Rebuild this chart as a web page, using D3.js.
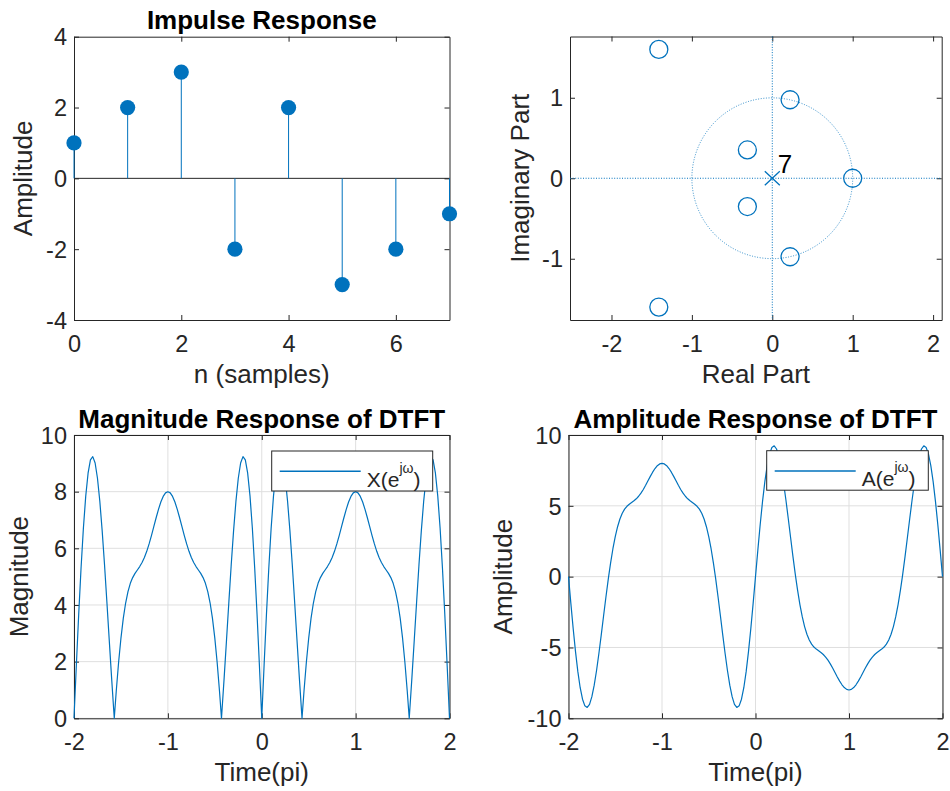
<!DOCTYPE html>
<html>
<head>
<meta charset="utf-8">
<script src="https://cdn.jsdelivr.net/npm/d3@7"></script>
<style>
  body { margin: 0; background: #fff; }
  svg { display: block; font-family: "Liberation Sans", Arial, Helvetica, sans-serif; }
</style>
</head>
<body>
<div id="chart"></div>
<script>
// --- impulse response h[n]
const samples = [0, 1, 2, 3, 4, 5, 6, 7];
const impulse = [1, 2, 3, -2, 2, -3, -2, -1];

// --- zeros and poles of H(z)
const zeroRe = [1, 0.2211, 0.2211, -0.3098, -0.3098, -1.4114, -1.4114];
const zeroIm = [0, 0.9753, -0.9753, 0.3514, -0.3514, 1.6005, -1.6005];
const poleRe = [0];
const poleIm = [0];
const poleOrder = [7];

// --- frequency axis (units of pi) and responses
const freqPi = [
  -2, -1.975, -1.95, -1.925, -1.9, -1.875, -1.85, -1.825, -1.8, -1.775, -1.75, -1.725, -1.7, -1.675, -1.65, -1.625, -1.6, -1.575, -1.571, -1.55, -1.525,
  -1.5, -1.475, -1.45, -1.425, -1.4, -1.375, -1.35, -1.325, -1.3, -1.275, -1.25, -1.225, -1.2, -1.175, -1.15, -1.125, -1.1, -1.075, -1.05, -1.025, -1,
  -0.975, -0.95, -0.925, -0.9, -0.875, -0.85, -0.825, -0.8, -0.775, -0.75, -0.725, -0.7, -0.675, -0.65, -0.625, -0.6, -0.575, -0.55, -0.525, -0.5,
  -0.475, -0.45, -0.429, -0.425, -0.4, -0.375, -0.35, -0.325, -0.3, -0.275, -0.25, -0.225, -0.2, -0.175, -0.15, -0.125, -0.1, -0.075, -0.05, -0.025, 0,
  0.025, 0.05, 0.075, 0.1, 0.125, 0.15, 0.175, 0.2, 0.225, 0.25, 0.275, 0.3, 0.325, 0.35, 0.375, 0.4, 0.425, 0.429, 0.45, 0.475, 0.5,
  0.525, 0.55, 0.575, 0.6, 0.625, 0.65, 0.675, 0.7, 0.725, 0.75, 0.775, 0.8, 0.825, 0.85, 0.875, 0.9, 0.925, 0.95, 0.975, 1,
  1.025, 1.05, 1.075, 1.1, 1.125, 1.15, 1.175, 1.2, 1.225, 1.25, 1.275, 1.3, 1.325, 1.35, 1.375, 1.4, 1.425, 1.45, 1.475, 1.5,
  1.525, 1.55, 1.571, 1.575, 1.6, 1.625, 1.65, 1.675, 1.7, 1.725, 1.75, 1.775, 1.8, 1.825, 1.85, 1.875, 1.9, 1.925, 1.95, 1.975, 2
];
const amplitude = [
  0, -1.871, -3.663, -5.297, -6.709, -7.841, -8.652, -9.120, -9.236, -9.012, -8.473, -7.661, -6.626, -5.426, -4.123, -2.780, -1.453, -0.194, 0, 0.957, 1.971,
  2.828, 3.526, 4.069, 4.474, 4.764, 4.967, 5.115, 5.235, 5.356, 5.497, 5.675, 5.894, 6.155, 6.450, 6.764, 7.080, 7.376, 7.633, 7.832, 7.957, 8,
  7.957, 7.832, 7.633, 7.376, 7.080, 6.764, 6.450, 6.155, 5.894, 5.675, 5.497, 5.356, 5.235, 5.115, 4.967, 4.764, 4.474, 4.069, 3.526, 2.828,
  1.971, 0.957, 0, -0.194, -1.453, -2.780, -4.123, -5.426, -6.626, -7.661, -8.473, -9.012, -9.236, -9.120, -8.652, -7.841, -6.709, -5.297, -3.663, -1.871, 0,
  1.871, 3.663, 5.297, 6.709, 7.841, 8.652, 9.120, 9.236, 9.012, 8.473, 7.661, 6.626, 5.426, 4.123, 2.780, 1.453, 0.194, 0, -0.957, -1.971, -2.828,
  -3.526, -4.069, -4.474, -4.764, -4.967, -5.115, -5.235, -5.356, -5.497, -5.675, -5.894, -6.155, -6.450, -6.764, -7.080, -7.376, -7.633, -7.832, -7.957, -8,
  -7.957, -7.832, -7.633, -7.376, -7.080, -6.764, -6.450, -6.155, -5.894, -5.675, -5.497, -5.356, -5.235, -5.115, -4.967, -4.764, -4.474, -4.069, -3.526, -2.828,
  -1.971, -0.957, 0, 0.194, 1.453, 2.780, 4.123, 5.426, 6.626, 7.661, 8.473, 9.012, 9.236, 9.120, 8.652, 7.841, 6.709, 5.297, 3.663, 1.871, 0
];
const magnitude = [
  0, 1.871, 3.663, 5.297, 6.709, 7.841, 8.652, 9.120, 9.236, 9.012, 8.473, 7.661, 6.626, 5.426, 4.123, 2.780, 1.453, 0.194, 0, 0.957, 1.971,
  2.828, 3.526, 4.069, 4.474, 4.764, 4.967, 5.115, 5.235, 5.356, 5.497, 5.675, 5.894, 6.155, 6.450, 6.764, 7.080, 7.376, 7.633, 7.832, 7.957, 8,
  7.957, 7.832, 7.633, 7.376, 7.080, 6.764, 6.450, 6.155, 5.894, 5.675, 5.497, 5.356, 5.235, 5.115, 4.967, 4.764, 4.474, 4.069, 3.526, 2.828,
  1.971, 0.957, 0, 0.194, 1.453, 2.780, 4.123, 5.426, 6.626, 7.661, 8.473, 9.012, 9.236, 9.120, 8.652, 7.841, 6.709, 5.297, 3.663, 1.871, 0,
  1.871, 3.663, 5.297, 6.709, 7.841, 8.652, 9.120, 9.236, 9.012, 8.473, 7.661, 6.626, 5.426, 4.123, 2.780, 1.453, 0.194, 0, 0.957, 1.971, 2.828,
  3.526, 4.069, 4.474, 4.764, 4.967, 5.115, 5.235, 5.356, 5.497, 5.675, 5.894, 6.155, 6.450, 6.764, 7.080, 7.376, 7.633, 7.832, 7.957, 8,
  7.957, 7.832, 7.633, 7.376, 7.080, 6.764, 6.450, 6.155, 5.894, 5.675, 5.497, 5.356, 5.235, 5.115, 4.967, 4.764, 4.474, 4.069, 3.526, 2.828,
  1.971, 0.957, 0, 0.194, 1.453, 2.780, 4.123, 5.426, 6.626, 7.661, 8.473, 9.012, 9.236, 9.120, 8.652, 7.841, 6.709, 5.297, 3.663, 1.871, 0
];

// --- tick values
const impulseXTicks = [0, 2, 4, 6];
const impulseYTicks = [-4, -2, 0, 2, 4];
const pzXTicks = [-2, -1, 0, 1, 2];
const pzYTicks = [-1, 0, 1];
const freqTicks = [-2, -1, 0, 1, 2];
const magTicks = [0, 2, 4, 6, 8, 10];
const ampTicks = [-10, -5, 0, 5, 10];

const BLUE = '#0072BD';
const INK = '#262626';
const GRID = '#dfdfdf';
const TICK = 5;
const TICK_FONT = '23.5px';
const LABEL_FONT = '26px';

const svg = d3.select('#chart').append('svg')
  .attr('width', 950)
  .attr('height', 791);

svg.append('rect').attr('width', 950).attr('height', 791).attr('fill', '#fff');

// axes boxes (pixels)
const panels = {
  impulse: { left: 74, right: 449.5, top: 36.7, bottom: 320, ylabelX: 32 },
  pz: { left: 570, right: 941.7, top: 36.5, bottom: 320, ylabelX: 528.5 },
  mag: { left: 74, right: 449.5, top: 435, bottom: 718.3, ylabelX: 27.5 },
  amp: { left: 568.5, right: 942.5, top: 435, bottom: 718.3, ylabelX: 512 }
};

function styleAxis(sel) {
  sel.attr('font-family', null).attr('font-size', TICK_FONT);
  sel.select('.domain').attr('stroke', INK);
  sel.selectAll('.tick line').attr('stroke', INK);
  sel.selectAll('.tick text').attr('fill', INK);
}

// draws grid, box, ticks, labels
function drawFrame(p, x, y, xt, yt, opts) {
  const g = svg.append('g').attr('transform', `translate(${p.left},${p.top})`);
  const w = p.right - p.left;
  const h = p.bottom - p.top;

  if (opts.grid) {
    g.append('g').selectAll('line').data(xt).join('line')
      .attr('x1', d => x(d)).attr('x2', d => x(d))
      .attr('y1', 0).attr('y2', h)
      .attr('stroke', GRID).attr('stroke-width', 1);
    g.append('g').selectAll('line').data(yt).join('line')
      .attr('x1', 0).attr('x2', w)
      .attr('y1', d => y(d)).attr('y2', d => y(d))
      .attr('stroke', GRID).attr('stroke-width', 1);
  }

  const fmt = d => String(d);
  g.append('g').attr('transform', `translate(0,${h})`)
    .call(d3.axisBottom(x).tickValues(xt).tickFormat(fmt).tickSizeInner(-TICK).tickSizeOuter(0).tickPadding(15))
    .call(styleAxis);
  g.append('g')
    .call(d3.axisTop(x).tickValues(xt).tickFormat('').tickSizeInner(-TICK).tickSizeOuter(0))
    .call(styleAxis);
  g.append('g')
    .call(d3.axisLeft(y).tickValues(yt).tickFormat(fmt).tickSizeInner(-TICK).tickSizeOuter(0).tickPadding(7))
    .call(styleAxis)
    .selectAll('.tick text').attr('dy', '0.35em');
  g.append('g').attr('transform', `translate(${w},0)`)
    .call(d3.axisRight(y).tickValues(yt).tickFormat('').tickSizeInner(-TICK).tickSizeOuter(0))
    .call(styleAxis);

  // titles and axis labels
  if (opts.title) {
    svg.append('text')
      .attr('x', (p.left + p.right) / 2).attr('y', p.top - 7.4)
      .attr('text-anchor', 'middle')
      .attr('font-size', LABEL_FONT).attr('font-weight', 'bold')
      .attr('fill', '#000')
      .text(opts.title);
  }
  svg.append('text')
    .attr('x', (p.left + p.right) / 2).attr('y', p.bottom + 63)
    .attr('text-anchor', 'middle')
    .attr('font-size', LABEL_FONT).attr('fill', INK)
    .text(opts.xlabel);
  svg.append('text')
    .attr('transform', `translate(${p.ylabelX},${(p.top + p.bottom) / 2}) rotate(-90)`)
    .attr('text-anchor', 'middle')
    .attr('font-size', LABEL_FONT).attr('fill', INK)
    .text(opts.ylabel);

  return g;
}

function addLegend(box, name) {
  const lg = svg.append('g');
  lg.append('rect')
    .attr('x', box.x).attr('y', box.y).attr('width', box.w).attr('height', box.h)
    .attr('fill', '#fff').attr('stroke', INK).attr('stroke-width', 1);
  lg.append('line')
    .attr('x1', box.x + 8).attr('x2', box.x + 89)
    .attr('y1', box.y + 20.3).attr('y2', box.y + 20.3)
    .attr('stroke', BLUE).attr('stroke-width', 1.5);
  const t = lg.append('text')
    .attr('x', box.x + 95).attr('y', box.y + 35.5)
    .attr('font-size', '21px').attr('fill', INK);
  t.append('tspan').text(name + '(e');
  t.append('tspan').attr('dy', -14).attr('font-size', '14px').text('jω');
  t.append('tspan').attr('dy', 14).text(')');
}

// ---------- Impulse response (stem)
{
  const p = panels.impulse;
  const x = d3.scaleLinear().domain([0, 7]).range([0, p.right - p.left]);
  const y = d3.scaleLinear().domain([-4, 4]).range([p.bottom - p.top, 0]);
  const g = drawFrame(p, x, y, impulseXTicks, impulseYTicks, {
    title: 'Impulse Response', xlabel: 'n (samples)', ylabel: 'Amplitude'
  });
  const data = samples.map((n, i) => ({ n, v: impulse[i] }));

  g.append('line')
    .attr('x1', x(0)).attr('x2', x(7))
    .attr('y1', y(0)).attr('y2', y(0))
    .attr('stroke', INK).attr('stroke-width', 1);

  g.selectAll('.stem').data(data).join('line')
    .attr('class', 'stem')
    .attr('x1', d => x(d.n)).attr('x2', d => x(d.n))
    .attr('y1', y(0)).attr('y2', d => y(d.v))
    .attr('stroke', BLUE).attr('stroke-width', 1);

  g.selectAll('.dot').data(data).join('circle')
    .attr('class', 'dot')
    .attr('cx', d => x(d.n)).attr('cy', d => y(d.v))
    .attr('r', 7.6)
    .attr('fill', BLUE);
}

// ---------- Pole-zero plot
{
  const p = panels.pz;
  const x = d3.scaleLinear().domain([-2.516, 2.107]).range([0, p.right - p.left]);
  const y = d3.scaleLinear().domain([-1.761, 1.761]).range([p.bottom - p.top, 0]);
  const g = drawFrame(p, x, y, pzXTicks, pzYTicks, {
    xlabel: 'Real Part', ylabel: 'Imaginary Part'
  });
  const w = p.right - p.left, h = p.bottom - p.top;

  // unit circle and real/imag axes (dotted)
  g.append('circle')
    .attr('cx', x(0)).attr('cy', y(0)).attr('r', x(1) - x(0))
    .attr('fill', 'none').attr('stroke', BLUE)
    .attr('stroke-width', 0.8).attr('stroke-dasharray', '1,1.6');
  g.append('line')
    .attr('x1', 0).attr('x2', w).attr('y1', y(0)).attr('y2', y(0))
    .attr('stroke', BLUE).attr('stroke-width', 1).attr('stroke-dasharray', '1,1.6');
  g.append('line')
    .attr('x1', x(0)).attr('x2', x(0)).attr('y1', 0).attr('y2', h)
    .attr('stroke', BLUE).attr('stroke-width', 1).attr('stroke-dasharray', '1,1.6');

  const zeros = zeroRe.map((re, i) => ({ re, im: zeroIm[i] }));
  g.selectAll('.zero').data(zeros).join('circle')
    .attr('class', 'zero')
    .attr('cx', d => x(d.re)).attr('cy', d => y(d.im))
    .attr('r', 9)
    .attr('fill', 'none').attr('stroke', BLUE).attr('stroke-width', 1.3);

  const poles = poleRe.map((re, i) => ({ re, im: poleIm[i], k: poleOrder[i] }));
  const pg = g.selectAll('.pole').data(poles).join('g')
    .attr('class', 'pole')
    .attr('transform', d => `translate(${x(d.re)},${y(d.im)})`);
  pg.append('path')
    .attr('d', 'M-7.5,-7L7.5,7M-7.5,7L7.5,-7')
    .attr('stroke', BLUE).attr('stroke-width', 1.3);
  pg.append('text')
    .attr('x', 5.4).attr('y', -5.6)
    .attr('font-size', LABEL_FONT).attr('fill', '#000')
    .text(d => d.k);
}

// ---------- Magnitude response
{
  const p = panels.mag;
  const x = d3.scaleLinear().domain([-2, 2]).range([0, p.right - p.left]);
  const y = d3.scaleLinear().domain([0, 10]).range([p.bottom - p.top, 0]);
  const g = drawFrame(p, x, y, freqTicks, magTicks, {
    grid: true, title: 'Magnitude Response of DTFT', xlabel: 'Time(pi)', ylabel: 'Magnitude'
  });
  const line = d3.line().x((d, i) => x(freqPi[i])).y(d => y(d));
  g.append('path').datum(magnitude)
    .attr('d', line)
    .attr('fill', 'none').attr('stroke', BLUE).attr('stroke-width', 1.2)
    .attr('stroke-linejoin', 'round');
  addLegend({ x: 271.7, y: 451, w: 161, h: 40 }, 'X');
}

// ---------- Amplitude response
{
  const p = panels.amp;
  const x = d3.scaleLinear().domain([-2, 2]).range([0, p.right - p.left]);
  const y = d3.scaleLinear().domain([-10, 10]).range([p.bottom - p.top, 0]);
  const g = drawFrame(p, x, y, freqTicks, ampTicks, {
    grid: true, title: 'Amplitude Response of DTFT', xlabel: 'Time(pi)', ylabel: 'Amplitude'
  });
  const line = d3.line().x((d, i) => x(freqPi[i])).y(d => y(d));
  g.append('path').datum(amplitude)
    .attr('d', line)
    .attr('fill', 'none').attr('stroke', BLUE).attr('stroke-width', 1.2)
    .attr('stroke-linejoin', 'round');
  addLegend({ x: 766.7, y: 450.7, w: 161.6, h: 39.5 }, 'A');
}
</script>
</body>
</html>
